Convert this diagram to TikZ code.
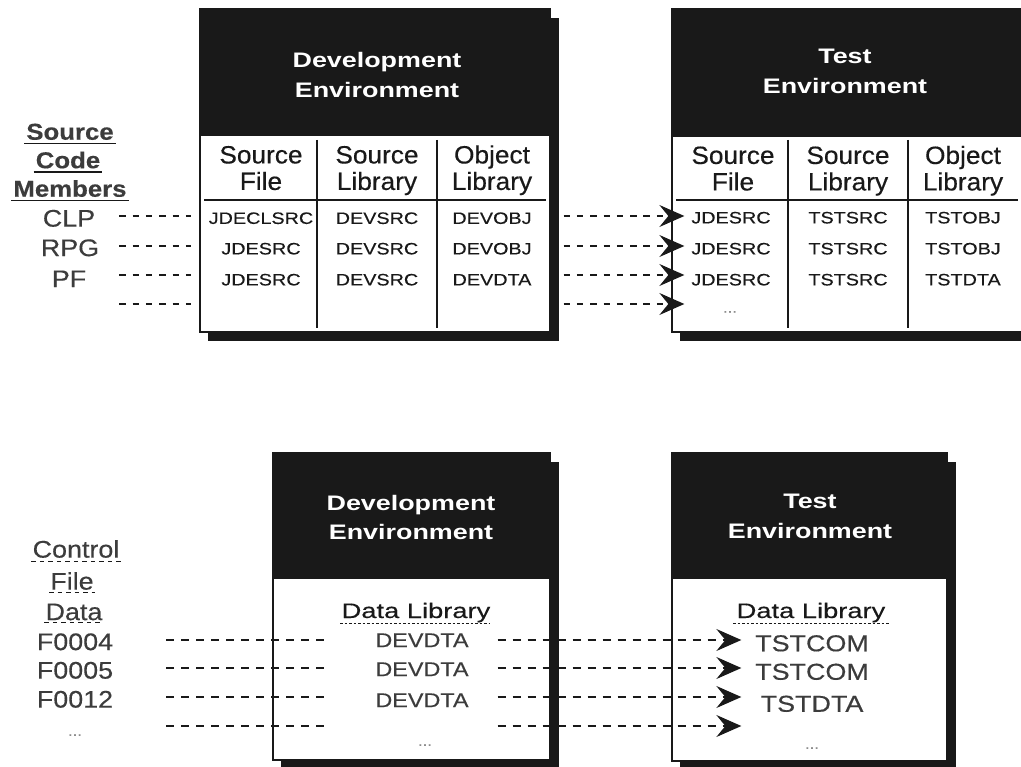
\documentclass[tikz,border=0pt]{standalone}
\usepackage{fontspec}
\setmainfont{Liberation Sans}
\newfontfamily\fhdr[FakeStretch=1.28]{Liberation Sans}
\newfontfamily\fcol[FakeStretch=1.05,FakeBold=0.35]{Liberation Sans}
\newfontfamily\fdat[FakeStretch=1.2,FakeBold=0.3]{Liberation Sans}
\newfontfamily\flab[FakeStretch=1.12,FakeBold=0.35]{Liberation Sans}
\newfontfamily\fdl[FakeStretch=1.3,FakeBold=0.35]{Liberation Sans}
\newfontfamily\fdv[FakeStretch=1.17,FakeBold=0.35]{Liberation Sans}
\usetikzlibrary{arrows.meta,calc}
\definecolor{ink}{gray}{0.1}
\begin{document}
\begin{tikzpicture}[x=1pt,y=-1pt,
  boxn/.style={draw=ink,line width=1.3pt,fill=white,inner sep=0pt},
  hdr/.style={fill=ink},
  shd/.style={fill=ink},
  tl/.style={draw=ink,line width=1.3pt},
  hd/.style={font=\fhdr\bfseries\fontsize{21}{25}\selectfont,text=white,inner sep=0pt,text height=15pt,text depth=0pt},
  colh/.style={font=\fcol\fontsize{25}{28}\selectfont,text=ink,inner sep=0pt,text height=17.9pt,text depth=0pt},
  dat/.style={font=\fdat\fontsize{16.5}{19}\selectfont,text=ink,inner sep=0pt,text height=11.8pt,text depth=0pt},
  lab/.style={font=\flab\fontsize{24}{27}\selectfont,text=ink!85,inner sep=0pt,text height=17.2pt,text depth=0pt},
  labb/.style={lab,font=\flab\bfseries\fontsize{23}{27}\selectfont,text height=16.5pt},
  dlib/.style={font=\fdl\fontsize{21}{25}\selectfont,text=ink,inner sep=0pt,text height=15pt,text depth=0pt},
  dv/.style={font=\fdv\fontsize{20}{24}\selectfont,text=ink!85,inner sep=0pt,text height=14.3pt,text depth=0pt},
  tv/.style={font=\fdv\fontsize{23}{27}\selectfont,text=ink!85,inner sep=0pt,text height=16.5pt,text depth=0pt},
  dots/.style={font=\fdat\fontsize{14}{16}\selectfont,text=black!45,inner sep=0pt},
  dshA/.style={draw=ink,line width=1.6pt,dash pattern=on 6.5pt off 6.8pt},
  dshB/.style={draw=ink,line width=1.6pt,dash pattern=on 8pt off 7pt},
  arr/.style={-{Stealth[length=25pt,width=22pt,inset=9pt]}},
  ul/.style={draw=ink,line width=1.2pt},
  dul/.style={draw=ink,line width=1.1pt,dash pattern=on 4.5pt off 4pt},
  dotul/.style={draw=ink,line width=1pt,dash pattern=on 2.5pt off 2pt}
]
\useasboundingbox (0,0) rectangle (1021,767);

% ---------- top development box ----------
\fill[shd] (208,18) rectangle (559,341);
\node[boxn,minimum width=350pt,minimum height=323pt] (dT) at (375,170.5) {};
\fill[hdr] (200,9) rectangle (550,136);
\draw[tl] (317,140) -- (317,328);
\draw[tl] (437,140) -- (437,328);
\draw[tl] (204,200) -- (546,200);
\node[hd] (dTh1) at (377,60.5) {Development};
\node[hd] (dTh2) at (377,90) {Environment};
\node[colh] (dTc1a) at (261,154.5) {Source};
\node[colh] (dTc1b) at (261,181) {File};
\node[colh] (dTc2a) at (377,154.5) {Source};
\node[colh] (dTc2b) at (377,181) {Library};
\node[colh] (dTc3a) at (492,154.5) {Object};
\node[colh] (dTc3b) at (492,181) {Library};
\node[dat] (ds1) at (261,218) {JDECLSRC};
\node[dat] (ds2) at (261,248.5) {JDESRC};
\node[dat] (ds3) at (261,279.5) {JDESRC};
\node[dat] (dl1) at (377,218) {DEVSRC};
\node[dat] (dl2) at (377,248.5) {DEVSRC};
\node[dat] (dl3) at (377,279.5) {DEVSRC};
\node[dat] (do1) at (492,218) {DEVOBJ};
\node[dat] (do2) at (492,248.5) {DEVOBJ};
\node[dat] (do3) at (492,279.5) {DEVDTA};

% ---------- top test box ----------
\fill[shd] (680,18) rectangle (1032,341);
\node[boxn,minimum width=352pt,minimum height=323pt] (tT) at (848,170.5) {};
\fill[hdr] (672,9) rectangle (1024,137);
\draw[tl] (788,140) -- (788,328);
\draw[tl] (908,140) -- (908,328);
\draw[tl] (676,200) -- (1018,200);
\node[hd] (tTh1) at (845,56.5) {Test};
\node[hd] (tTh2) at (845,86.5) {Environment};
\node[colh] (tTc1a) at (733,155) {Source};
\node[colh] (tTc1b) at (733,181.5) {File};
\node[colh] (tTc2a) at (848,155) {Source};
\node[colh] (tTc2b) at (848,181.5) {Library};
\node[colh] (tTc3a) at (963,155) {Object};
\node[colh] (tTc3b) at (963,181.5) {Library};
\node[dat] (ts1) at (731,217.5) {JDESRC};
\node[dat] (ts2) at (731,248.5) {JDESRC};
\node[dat] (ts3) at (731,279.5) {JDESRC};
\node[dots] (ts4) at (730,312) {...};
\node[dat] (tl1) at (848,217.5) {TSTSRC};
\node[dat] (tl2) at (848,248.5) {TSTSRC};
\node[dat] (tl3) at (848,279.5) {TSTSRC};
\node[dat] (to1) at (963,217.5) {TSTOBJ};
\node[dat] (to2) at (963,248.5) {TSTOBJ};
\node[dat] (to3) at (963,279.5) {TSTDTA};

% ---------- top left labels ----------
\node[labb] (scS) at (70,131.5) {Source};
\node[labb] (scC) at (68,160) {Code};
\node[labb] (scM) at (70,188.5) {Members};
\draw[ul] ($(scS.south west)+(-2,3.5)$) -- ($(scS.south east)+(2,3.5)$);
\draw[ul] ($(scC.south west)+(-2,3.5)$) -- ($(scC.south east)+(2,3.5)$);
\draw[ul] ($(scM.south west)+(-2,3.5)$) -- ($(scM.south east)+(2,3.5)$);
\node[lab] (clp) at (69,218) {CLP};
\node[lab] (rpg) at (70,247.5) {RPG};
\node[lab] (pf) at (69,278.5) {PF};

% rows of the top connectors
\coordinate (r1) at (0,216);
\coordinate (r2) at (0,246);
\coordinate (r3) at (0,275);
\coordinate (r4) at (0,304);
\foreach \r in {r1,r2,r3,r4}{
  \draw[dshA] ($(dT.west |- \r)+(-80,0)$) -- ($(dT.west |- \r)+(-8,0)$);
  \draw[dshA,arr] ($(dT.east |- \r)+(13,0)$) -- ($(tT.west |- \r)+(13,0)$);
}

% ---------- bottom development box ----------
\fill[shd] (281,462) rectangle (559,770);
\node[boxn,minimum width=277pt,minimum height=307pt] (dB) at (411.5,606.5) {};
\fill[hdr] (273,453) rectangle (550,579);
\node[hd] (dBh1) at (411,502.5) {Development};
\node[hd] (dBh2) at (411,531.5) {Environment};
\node[dlib] (dBl) at (416,610.5) {Data Library};
\draw[dotul] (340,623) -- (489,623);
\node[dv] (dd1) at (422,640) {DEVDTA};
\node[dv] (dd2) at (422,669) {DEVDTA};
\node[dv] (dd3) at (422,700) {DEVDTA};
\node[dots] (dd4) at (425,745) {...};

% ---------- bottom test box ----------
\fill[shd] (680,462) rectangle (956,770);
\node[boxn,minimum width=275pt,minimum height=308pt] (tB) at (809.5,607) {};
\fill[hdr] (672,453) rectangle (947,579);
\node[hd] (tBh1) at (810,501) {Test};
\node[hd] (tBh2) at (810,530.5) {Environment};
\node[dlib] (tBl) at (811,610.5) {Data Library};
\draw[dotul] (733,623) -- (889,623);
\node[tv] (tc1) at (812,643) {TSTCOM};
\node[tv] (tc2) at (812,671.5) {TSTCOM};
\node[tv] (tc3) at (812,703.5) {TSTDTA};
\node[dots] (tc4) at (812,748) {...};

% ---------- bottom left labels ----------
\node[lab] (cfC) at (76,549) {Control};
\node[lab] (cfF) at (72,581) {File};
\node[lab] (cfD) at (74,611.5) {Data};
\draw[dul] ($(cfC.south west)+(-1,4)$) -- ($(cfC.south east)+(1,4)$);
\draw[dul] ($(cfF.south west)+(-1,3)$) -- ($(cfF.south east)+(1,3)$);
\draw[dul] ($(cfD.south west)+(-1,2)$) -- ($(cfD.south east)+(1,2)$);
\node[lab] (f1) at (75,641.5) {F0004};
\node[lab] (f2) at (75,670) {F0005};
\node[lab] (f3) at (75,699) {F0012};
\node[dots] (f4) at (75,735) {...};

\coordinate (q1) at (0,640);
\coordinate (q2) at (0,668);
\coordinate (q3) at (0,697);
\coordinate (q4) at (0,726);
\foreach \q in {q1,q2,q3,q4}{
  \draw[dshB] ($(dB.west |- \q)+(-106,0)$) -- ($(dB.west |- \q)+(57,0)$);
  \draw[dshB,arr] ($(dB.east |- \q)+(-53,0)$) -- ($(tB.west |- \q)+(70,0)$);
}
\end{tikzpicture}
\end{document}
